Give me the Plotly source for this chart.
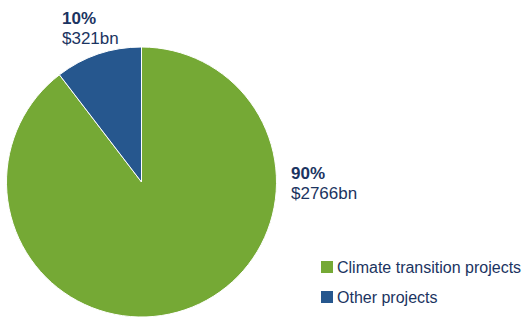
import plotly.graph_objects as go

labels = ["Climate transition projects", "Other projects"]
values = [2766, 321]
colors = ["#75a935", "#26578e"]

total = sum(values)
pcts = [round(v / total * 100) for v in values]

W, H = 523, 318
navy = "#1b3461"
font = "Liberation Sans, Arial, sans-serif"

fig = go.Figure()
fig.add_trace(go.Pie(
    labels=labels, values=values, sort=False, direction="clockwise", rotation=0,
    marker=dict(colors=colors, line=dict(color="white", width=1)),
    textinfo="none", hoverinfo="label+value", showlegend=False,
    domain=dict(x=[6 / W, 277 / W], y=[1 / H, 271 / H]),
))


def px_y(y):
    return 1 - y / H


# slice label annotations: (index, left x, top y of percent line, top y of value line)
label_pos = [(0, 289, 162, 182), (1, 60, 7, 27)]
for i, x, y1, y2 in label_pos:
    fig.add_annotation(x=x / W, y=px_y(y1), xref="paper", yref="paper", xanchor="left", yanchor="top",
                       text=f"<b>{pcts[i]}%</b>", showarrow=False, align="left",
                       font=dict(family=font, size=17, color=navy))
    fig.add_annotation(x=x / W, y=px_y(y2), xref="paper", yref="paper", xanchor="left", yanchor="top",
                       text=f"${values[i]}bn", showarrow=False, align="left",
                       font=dict(family=font, size=17, color=navy))

# custom legend
leg_y = [261, 291]
for lab, col, ly in zip(labels, colors, leg_y):
    fig.add_shape(type="rect", xref="paper", yref="paper",
                  x0=321 / W, x1=333 / W, y0=px_y(ly + 12), y1=px_y(ly),
                  fillcolor=col, line=dict(width=0))
    fig.add_annotation(x=335 / W, y=px_y(ly + 6), xref="paper", yref="paper", xanchor="left", yanchor="middle",
                       text=lab, showarrow=False, align="left",
                       font=dict(family=font, size=16, color=navy))

fig.update_layout(
    width=W, height=H, margin=dict(l=0, r=0, t=0, b=0),
    paper_bgcolor="white", plot_bgcolor="white",
    showlegend=False,
)
fig.write_html("out.html", post_script="document.body.style.margin='0';",
               config={"displayModeBar": False})
